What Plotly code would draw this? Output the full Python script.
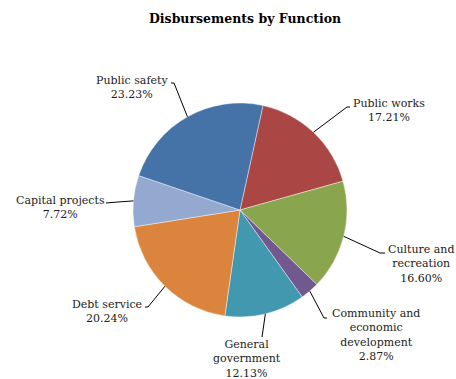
import math
import plotly.graph_objects as go

# ---- data ----
categories = ["Public works", "Culture and recreation", "Community and economic development",
              "General government", "Debt service", "Capital projects", "Public safety"]
shares = [17.21, 16.60, 2.87, 12.13, 20.24, 7.72, 23.23]
label_lines = [["Public works"], ["Culture and", "recreation"],
               ["Community and", "economic", "development"],
               ["General", "government"], ["Debt service"], ["Capital projects"], ["Public safety"]]
colors = ["#AA4643", "#89A54E", "#71588F", "#4198AF", "#DB843D", "#93A9CF", "#4572A7"]

# ---- layout (pixels) ----
W, H = 456, 379
CX, CY, R = 240, 210, 107
ROT = 12.4
FONT = "DejaVu Serif"
FS = 11
# text block centre, elbow, line end next to the text
label_pos = [(389, 110), (421, 264), (376, 335), (247, 359), (107, 311), (60, 207), (132, 87)]
elbows = [(347, 107), (380, 253), (324, 318), (262, 337), (148, 307), (118, 202), (174, 83)]
ends = [(350, 107), (385, 253), (327, 318), (262, 337), (145, 307), (106, 203), (171, 83)]


def px(x):
    return x / W


def py(y):
    return 1 - y / H


fig = go.Figure(go.Pie(
    labels=categories, values=shares, sort=False, direction="clockwise", rotation=ROT,
    marker=dict(colors=colors, line=dict(color="rgba(255,255,255,0.6)", width=0.7)),
    textinfo="none", hoverinfo="label+percent", showlegend=False,
    domain=dict(x=[px(CX - R), px(CX + R)], y=[py(CY + R), py(CY - R)]),
))

total = sum(shares)
cum = 0.0
shapes = []
annotations = []
for i, v in enumerate(shares):
    mid = math.radians(ROT + (cum + v / 2) / total * 360)
    cum += v
    ax = CX + R * math.sin(mid)
    ay = CY - R * math.cos(mid)
    ex, ey = elbows[i]
    tx, ty = ends[i]
    path = f"M {px(ax)} {py(ay)} L {px(ex)} {py(ey)} L {px(tx)} {py(ty)}"
    shapes.append(dict(type="path", xref="paper", yref="paper", path=path,
                       line=dict(color="black", width=1)))
    text = "<br>".join(label_lines[i] + [f"{v:.2f}%"])
    lx, ly = label_pos[i]
    annotations.append(dict(x=px(lx), y=py(ly), xref="paper", yref="paper", text=text,
                            showarrow=False, xanchor="center", yanchor="middle",
                            font=dict(family=FONT, size=FS, color="#222222")))

annotations.append(dict(x=px(245), y=py(18), xref="paper", yref="paper",
                        text="<b>Disbursements by Function</b>", showarrow=False,
                        xanchor="center", yanchor="middle",
                        font=dict(family=FONT, size=12.5, color="black")))

fig.update_layout(width=W, height=H, margin=dict(l=0, r=0, t=0, b=0),
                  paper_bgcolor="white", plot_bgcolor="white",
                  shapes=shapes, annotations=annotations)
fig.write_html("out.html")
